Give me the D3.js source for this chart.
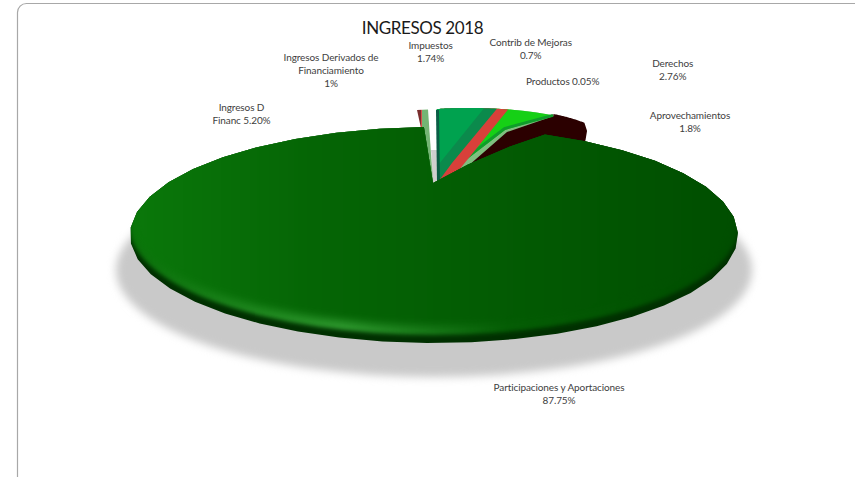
<!DOCTYPE html>
<html>
<head>
<meta charset="utf-8">
<script src="https://cdn.jsdelivr.net/npm/d3@7"></script>
<style>
  html, body { margin: 0; background: #fff; overflow: hidden; }
  text { font-family: Lato, "Open Sans", sans-serif; fill: #404040; }
</style>
</head>
<body>
<svg id="chart" width="855" height="477"></svg>
<script>
var categories = ["Ingresos D Financ", "Contrib de Mejoras", "Ingresos Derivados de Financiamiento", "Derechos", "Productos", "Aprovechamientos", "Participaciones y Aportaciones", "Impuestos"];
var values = [5.20, 0.7, 1, 2.76, 0.05, 1.8, 87.75, 1.74];
var colors = ["#00a24f", "#0b8a4c", "#d8403a", "#16d016", "#7fbf7f", "#2b0000", "#046204", "url(#stripFill)"];

var labelLines = [["Ingresos D", "Financ 5.20%"], ["Contrib de Mejoras", "0.7%"], ["Ingresos Derivados de", "Financiamiento", "1%"], ["Derechos", "2.76%"], ["Productos 0.05%"], ["Aprovechamientos", "1.8%"], ["Participaciones y Aportaciones", "87.75%"], ["Impuestos", "1.74%"]];
var labelX = [241.5, 530.7, 331, 672.7, 562.7, 690, 559, 430.6];
var labelY = [107, 42.7, 57.7, 63.7, 81, 115, 387, 45.7];

var svg = d3.select("#chart");
var defs = svg.append("defs");
var rad = Math.PI / 180;

var pie = d3.pie().sort(null).value(function(d) { return d; });
var arcs = pie(values);
var mainArc = arcs[6], stripArc = arcs[7];

// big ellipse of the main slice and its notch point
var main = {cx: 434, cy: 235, rx: 304, ry: 108, hubX: 433, hubY: 183};
// flatter ellipse the pulled out slices sit on
var back = {cx: 470, cy: 143, rx: 135, ry: 35};

var mainRim = d3.scaleLinear().domain([mainArc.startAngle, mainArc.endAngle]).range([21.4 * rad, 358.1 * rad]);
var backRim = d3.scaleLinear()
    .domain([0].concat(arcs.slice(0, 6).map(function(d) { return d.endAngle; })))
    .range([-14.2, 5.95, 11.5, 16.4, 37.9, 38.8, 57].map(function(d) { return d * rad; }));
var stripX = d3.scaleLinear().domain([stripArc.startAngle, stripArc.endAngle]).range([417, 428]);

// inner end of each pulled out slice, the main slice hides what is below
var hub = [438, 182];
var innerPoints = [[[439, 164], hub], [[452, 163], hub], [[459, 170], hub], [[505, 130], [462, 163], hub], [[507, 132], [468, 166], hub], [[585.5, 131], [584, 140], hub, [466, 162], [503, 128]]];

var line = d3.line();

function rimPoints(e, scale, from, to) {
  return d3.range(0, 41).map(function(i) {
    var t = scale(from + (to - from) * i / 40);
    return [e.cx + e.rx * Math.sin(t), e.cy - e.ry * Math.cos(t)];
  });
}

// gradients
function addGradient(id, attrs, stops) {
  var g = defs.append("linearGradient").attr("id", id).attr("gradientUnits", "userSpaceOnUse");
  Object.keys(attrs).forEach(function(k) { g.attr(k, attrs[k]); });
  stops.forEach(function(s) { g.append("stop").attr("offset", s[0]).attr("stop-color", s[1]); });
}
addGradient("stripFill", {x1: 417, y1: 0, x2: 428, y2: 0}, [[0, "#7a2e2e"], [0.33, "#7a2e2e"], [0.34, "#d8504a"], [0.42, "#d8504a"], [0.43, "#74b574"], [1, "#74b574"]]);
addGradient("rimLight", {x1: 130, y1: 0, x2: 738, y2: 0}, [[0, "#0a700a"], [0.35, "#2f9a2f"], [0.62, "#055e05"], [1, "#004c00"]]);
addGradient("topFill", {x1: 130, y1: 0, x2: 738, y2: 0}, [[0, "#0a780a"], [0.3, "#056505"], [1, "#004e00"]]);

// sRGB here, the default linear blending bands badly on dark greens
[["blur2", 2.2], ["blur4", 4], ["blurShadow", 4]].forEach(function(b) {
  defs.append("filter").attr("id", b[0]).attr("x", "-10%").attr("y", "-20%").attr("width", "120%").attr("height", "140%")
    .attr("color-interpolation-filters", "sRGB")
    .append("feGaussianBlur").attr("stdDeviation", b[1]);
});

// chart area border, runs off the picture on the right and bottom
svg.append("rect").attr("x", 17.5).attr("y", 3.5).attr("width", 900).attr("height", 600).attr("rx", 9)
    .attr("fill", "#fff").attr("stroke", "#a8a8a8").attr("stroke-width", 1.2);

// shadow
svg.append("ellipse").attr("cx", 434).attr("cy", 270).attr("rx", 318).attr("ry", 107)
    .attr("fill", "#c9c9c9").attr("filter", "url(#blurShadow)");
svg.append("path").attr("d", line([[431, 150], [438, 150], [438, 182], [434, 184]])).attr("fill", "#cfcfcf");

// the strip left of the gap
svg.append("path")
    .attr("d", line([[stripX(stripArc.startAngle), 110], [stripX(stripArc.endAngle), 109.5], [main.hubX, main.hubY]]) + "Z")
    .attr("fill", colors[7]);

// pulled out slices, painted largest first so each one only shows its own band
d3.range(5, -1, -1).forEach(function(i) {
  var from = i == 5 ? arcs[5].startAngle : 0;
  var rim = rimPoints(back, backRim, from, arcs[i].endAngle);
  svg.append("path").attr("class", "slice").attr("d", line(rim.concat(innerPoints[i])) + "Z")
      .attr("fill", colors[i])
      .attr("stroke", i == 5 ? colors[i] : "none")
      .attr("stroke-width", 3).attr("stroke-linejoin", "round");
  // darker band along the lower edge of the bright green slice
  if (i == 3) {
    svg.append("path")
      .attr("d", line([rim[40], [504.5, 128.5], [461.5, 161.5]]))
      .attr("fill", "none").attr("stroke", "#0f9d2a").attr("stroke-width", 3);
  }
});
// side wall of the first slice
svg.append("path").attr("d", line([[437.5, 110], [438.5, 182]])).attr("stroke", "#0a5d45").attr("stroke-width", 3).attr("fill", "none");

// main slice, its cut edge bows out a little before it meets the rim
var mainPts = [[main.hubX, main.hubY], [468, 164.5], [510, 146.5]].concat(rimPoints(main, mainRim, mainArc.startAngle, mainArc.endAngle));
var mainPath = line(mainPts) + "Z";
defs.append("clipPath").attr("id", "mainClip").append("path").attr("d", mainPath);

var g = svg.append("g").attr("clip-path", "url(#mainClip)");
g.append("rect").attr("x", 100).attr("y", 100).attr("width", 680).attr("height", 270).attr("fill", "#003000");
g.append("ellipse").attr("cx", main.cx).attr("cy", main.cy - 8).attr("rx", main.rx).attr("ry", main.ry)
    .attr("fill", "url(#rimLight)").attr("filter", "url(#blur2)");
g.append("ellipse").attr("cx", main.cx).attr("cy", main.cy - 17).attr("rx", main.rx).attr("ry", main.ry)
    .attr("fill", "url(#topFill)").attr("filter", "url(#blur4)");

// title and labels
svg.append("text").attr("x", 422.5).attr("y", 34).attr("text-anchor", "middle")
    .style("font-size", "17px").style("letter-spacing", "-0.4px").style("fill", "#1a1a1a").text("INGRESOS 2018");

svg.selectAll(".lbl").data(labelLines).enter().append("text")
    .attr("class", "lbl")
    .attr("text-anchor", "middle")
    .style("font-size", "10px")
    .style("letter-spacing", "-0.1px")
    .each(function(d, i) {
      d3.select(this).selectAll("tspan").data(d).enter().append("tspan")
        .attr("x", labelX[i])
        .attr("y", function(s, j) { return labelY[i] + 3.5 + j * 13; })
        .text(function(s) { return s; });
    });
</script>
</body>
</html>
